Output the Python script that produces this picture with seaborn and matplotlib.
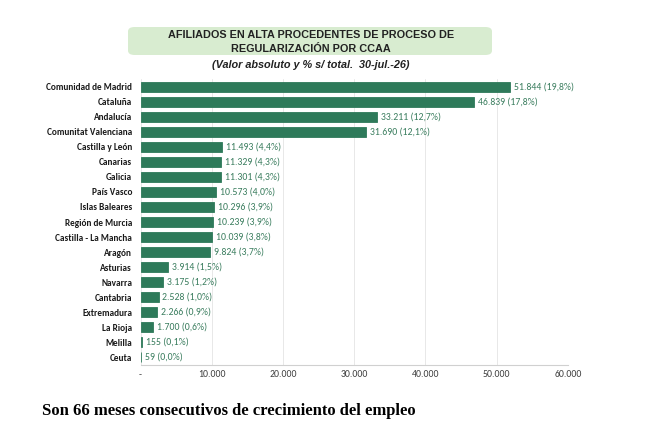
import matplotlib
matplotlib.use("Agg")
import matplotlib.pyplot as plt
import seaborn as sns
import pandas as pd
from matplotlib.patches import FancyBboxPatch
from matplotlib.ticker import FuncFormatter

# Data
regions = ["Comunidad de Madrid", "Cataluña", "Andalucía", "Comunitat Valenciana",
           "Castilla y León", "Canarias", "Galicia", "País Vasco", "Islas Baleares",
           "Región de Murcia", "Castilla - La Mancha", "Aragón", "Asturias", "Navarra",
           "Cantabria", "Extremadura", "La Rioja", "Melilla", "Ceuta"]
afiliados = [51844, 46839, 33211, 31690, 11493, 11329, 11301, 10573, 10296,
             10239, 10039, 9824, 3914, 3175, 2528, 2266, 1700, 155, 59]
pct = ["19,8", "17,8", "12,7", "12,1", "4,4", "4,3", "4,3", "4,0", "3,9",
       "3,9", "3,8", "3,7", "1,5", "1,2", "1,0", "0,9", "0,6", "0,1", "0,0"]
ticks = [0, 10000, 20000, 30000, 40000, 50000, 60000]

df = pd.DataFrame({"ccaa": regions, "afiliados": afiliados, "pct": pct})

bar_green = "#2e7a5a"
label_green = "#3a7d5e"
excel_font = "Carlito"

sns.set_style("white")
fig = plt.figure(figsize=(6.71, 4.38), dpi=100)
ax = fig.add_axes([0.2094, 0.1678, 0.637, 0.6507])

sns.barplot(data=df, x="afiliados", y="ccaa", color=bar_green, width=0.68,
            saturation=1, edgecolor=bar_green, linewidth=0.6, ax=ax, zorder=3)

def fmt_miles(v):
    return f"{int(v):,}".replace(",", ".")

for i, row in df.iterrows():
    ax.text(row["afiliados"] + 550, i, f"{fmt_miles(row['afiliados'])} ({row['pct']}%)",
            va="center", ha="left", fontsize=7, color=label_green,
            family=excel_font, zorder=4)

ax.set_xlim(0, 60000)
ax.set_xticks(ticks)
ax.xaxis.set_major_formatter(FuncFormatter(lambda v, p: "-" if v == 0 else fmt_miles(v)))
ax.tick_params(axis="x", length=0, labelsize=7, colors="#404040", pad=4)
ax.tick_params(axis="y", length=0, pad=6)
for lab in ax.get_xticklabels():
    lab.set_family(excel_font)
for lab in ax.get_yticklabels():
    lab.set_family(excel_font)
    lab.set_fontweight("bold")
    lab.set_fontsize(6.7)
    lab.set_color("#1a1a1a")
ax.set_xlabel("")
ax.set_ylabel("")
ax.xaxis.grid(True, color="#e8e8e8", linewidth=0.7, zorder=0)
for s in ["top", "right", "left"]:
    ax.spines[s].set_visible(False)
ax.spines["bottom"].set_color("#d0d0d0")
ax.spines["bottom"].set_linewidth(0.8)

# title box
box = FancyBboxPatch((128 / 671, 1 - 55 / 438), 364 / 671, 28 / 438,
                     boxstyle="round,pad=0,rounding_size=0.01",
                     transform=fig.transFigure, facecolor="#d8ecd0",
                     edgecolor="none", zorder=0)
fig.patches.append(box)
fig.text(311 / 671, 1 - 35 / 438, "AFILIADOS EN ALTA PROCEDENTES DE PROCESO DE",
         ha="center", va="center", fontsize=7.8, fontweight="bold",
         family="Liberation Sans", color="#222222")
fig.text(311 / 671, 1 - 48.5 / 438, "REGULARIZACIÓN POR CCAA",
         ha="center", va="center", fontsize=7.8, fontweight="bold",
         family="Liberation Sans", color="#222222")
fig.text(311 / 671, 1 - 64.5 / 438, "(Valor absoluto y % s/ total.  30-jul.-26)",
         ha="center", va="center", fontsize=7.8, fontweight="bold", style="italic",
         family="Liberation Sans", color="#222222")

fig.text(42 / 671, 1 - 411 / 438, "Son 66 meses consecutivos de crecimiento del empleo",
         ha="left", va="center", fontsize=12, fontweight="bold",
         family="Liberation Serif", color="black")

fig.savefig("out.png", dpi=100)
